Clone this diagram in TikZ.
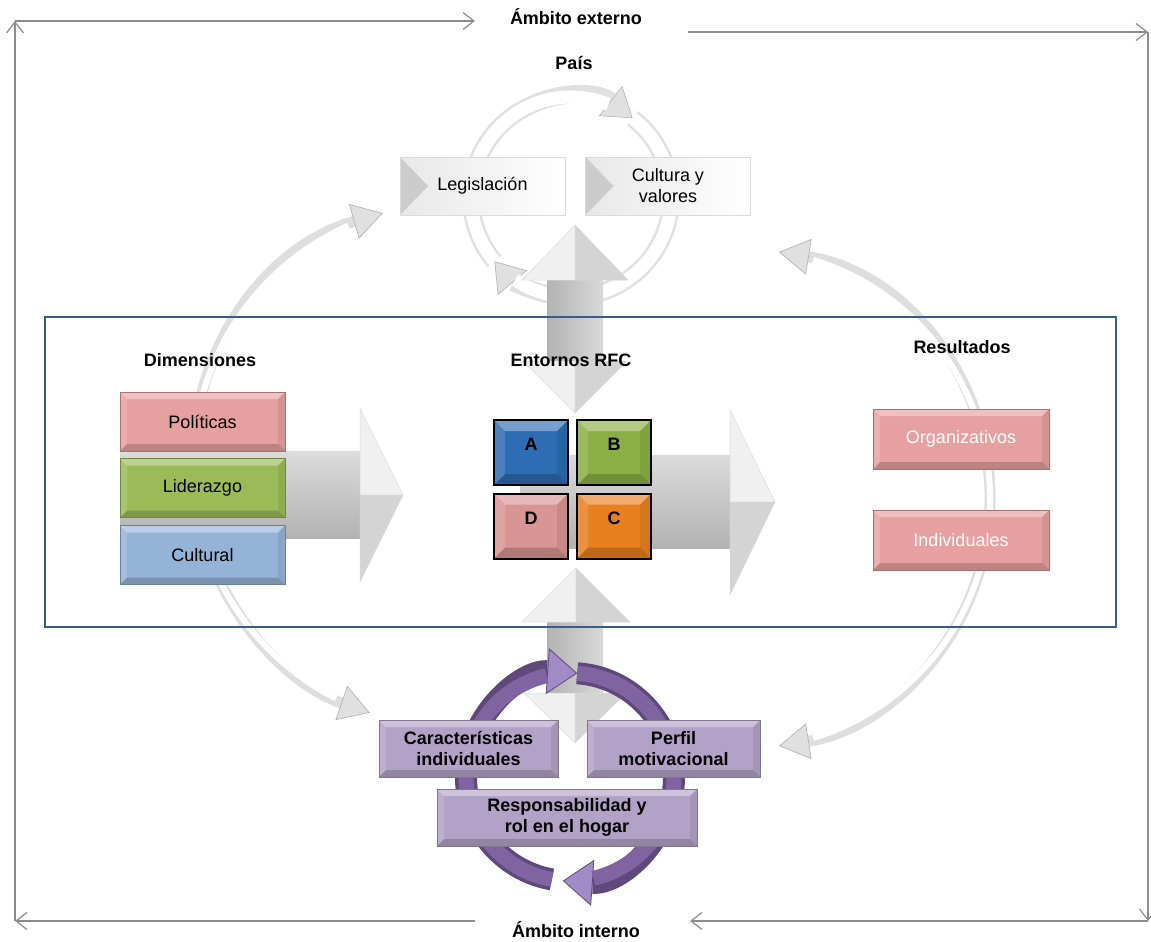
\documentclass[tikz,border=0pt]{standalone}
\usepackage{fontspec}
\setmainfont{Liberation Sans}
\usepackage{tikz}
\usetikzlibrary{arrows.meta,positioning,calc}
\definecolor{Rose}{HTML}{E6A09F}
\definecolor{Lime}{HTML}{9BBB59}
\definecolor{Sky}{HTML}{95B3D7}
\definecolor{Cobalt}{HTML}{2E6CB3}
\definecolor{Moss}{HTML}{8BB045}
\definecolor{Blush}{HTML}{D99593}
\definecolor{Tangerine}{HTML}{E8801F}
\definecolor{Lilac}{HTML}{B3A2C7}
\definecolor{Violet}{HTML}{8064A2}
\definecolor{VioletDk}{HTML}{5F497A}
\definecolor{VioletLt}{HTML}{A08BC6}
\definecolor{Navy}{HTML}{385D8A}
\definecolor{Rim}{HTML}{8C8C8C}
\newcommand\figfont{\fontsize{18}{21}\selectfont}
\tikzset{
  rim/.style={draw=Rim,line width=1.2pt,-{Straight Barb[length=11pt,width=17pt]}},
  head/.style={font=\figfont\bfseries,inner sep=0pt},
  bevel/.style={path picture={
    \path (path picture bounding box.south west) coordinate (bv1)
          (path picture bounding box.north east) coordinate (bv2);
    \fill[white,opacity=.35] (bv1 |- bv2) -- (bv2) -- ([shift={(-#1,-#1)}]bv2)
      -- ([shift={(#1,-#1)}]bv1 |- bv2) -- cycle;
    \fill[black,opacity=.18] (bv1) -- (bv2 |- bv1) -- ([shift={(-#1,#1)}]bv2 |- bv1)
      -- ([shift={(#1,#1)}]bv1) -- cycle;
    \fill[black,opacity=.08] (bv2 |- bv1) -- (bv2) -- ([shift={(-#1,-#1)}]bv2)
      -- ([shift={(-#1,#1)}]bv2 |- bv1) -- cycle;
    \fill[white,opacity=.15] (bv1) -- (bv1 |- bv2) -- ([shift={(#1,-#1)}]bv1 |- bv2)
      -- ([shift={(#1,#1)}]bv1) -- cycle;
  }},
  panel/.style={
    draw=#1!72!black,fill=#1,line width=.8pt,
    minimum width=165pt,minimum height=59pt,
    font=\figfont,align=center,bevel=7pt
  },
  tile/.style={
    draw=black,line width=2pt,fill=#1,minimum width=74pt,minimum height=65pt,
    font=\figfont\bfseries,text height=13pt,text depth=17pt,bevel=11pt
  },
  leaf/.style={
    draw=black!14,left color=black!9,right color=white,
    minimum width=165pt,minimum height=58pt,font=\figfont,align=center,
    path picture={\fill[black!20] (path picture bounding box.north west)
      -- ([xshift=28pt]path picture bounding box.west)
      -- (path picture bounding box.south west) -- cycle;}
  },
  swing/.style={draw=black!13,line width=11pt,
    >={Triangle[length=30pt,width=36pt,line width=.6pt,color=black!32,fill=black!12]},<->},
  swingcore/.style={draw=white,line width=6pt},
  cycler/.style={draw=black!12,line width=18pt,
    -{Triangle[length=28pt,width=38pt,line width=.6pt,color=black!30,fill=black!12]}},
  cyclercore/.style={draw=white,line width=13pt},
  spin/.style={draw=VioletDk,line width=22pt,
    -{Triangle[length=30pt,width=46pt,line width=.8pt,color=VioletDk,fill=VioletLt]}},
  spincore/.style={draw=Violet,line width=15pt},
  hshaft/.style={top color=black!14,bottom color=black!30},
  vshaft/.style={left color=black!30,right color=black!15},
  headlt/.style={fill=black!6,draw=black!14,line width=.5pt},
  headdk/.style={fill=black!17,draw=black!14,line width=.5pt}
}
\begin{document}
\begin{tikzpicture}[x=1pt,y=-1pt]
  \useasboundingbox (0,0) rectangle (1151,942);
  \coordinate (lc) at (455,465);
  \coordinate (rc) at (740,499);
  \coordinate (pc) at (571,197);
  \coordinate (hc) at (570,777);

  \draw[swing] ($(lc)+(254:262)$) arc[start angle=254,end angle=109,radius=262];
  \draw[swingcore] ($(lc)+(246:262)$) arc[start angle=246,end angle=117,radius=262];
  \draw[swing] ($(rc)+(-81:250)$) arc[start angle=-81,end angle=81,radius=250];
  \draw[swingcore] ($(rc)+(-73:250)$) arc[start angle=-73,end angle=73,radius=250];

  \draw[cycler] ($(pc)+(140:100)$) arc[start angle=140,end angle=308,radius=100];
  \draw[cycler] ($(pc)+(308:100)$) arc[start angle=308,end angle=500,radius=100];
  \draw[cyclercore] ($(pc)+(140:100)$) arc[start angle=140,end angle=292,radius=100];
  \draw[cyclercore] ($(pc)+(308:100)$) arc[start angle=308,end angle=484,radius=100];

  \fill[hshaft] (120,451) rectangle (361,538);
  \filldraw[headlt] (360,408) -- (403,495) -- (360,495) -- cycle;
  \filldraw[headdk] (360,495) -- (403,495) -- (360,582) -- cycle;
  \fill[hshaft] (520,455) rectangle (731,548);
  \filldraw[headlt] (730,410) -- (775,502) -- (730,502) -- cycle;
  \filldraw[headdk] (730,502) -- (775,502) -- (730,595) -- cycle;

  \fill[vshaft] (547,279) rectangle (603,362);
  \filldraw[headlt] (522,280) -- (575,225) -- (575,280) -- cycle;
  \filldraw[headdk] (575,225) -- (628,280) -- (575,280) -- cycle;
  \filldraw[headlt] (523,361) -- (575,361) -- (575,413) -- cycle;
  \filldraw[headdk] (575,361) -- (627,361) -- (575,413) -- cycle;
  \fill[vshaft] (547,621) rectangle (603,694);
  \filldraw[headlt] (522,622) -- (576,568) -- (576,622) -- cycle;
  \filldraw[headdk] (576,568) -- (630,622) -- (576,622) -- cycle;
  \filldraw[headlt] (524,693) -- (575,693) -- (575,743) -- cycle;
  \filldraw[headdk] (575,693) -- (626,693) -- (575,743) -- cycle;

  \draw[Navy,line width=1.3pt] (45,317) rectangle (1116,627);

  \draw[spin] ($(hc)+(100:104)$) arc[start angle=100,end angle=274,radius=104];
  \draw[spin] ($(hc)+(274:104)$) arc[start angle=274,end angle=454,radius=104];
  \draw[spincore] ($(hc)+(100:104)$) arc[start angle=100,end angle=257,radius=104];
  \draw[spincore] ($(hc)+(274:104)$) arc[start angle=274,end angle=437,radius=104];

  \node[leaf] (leg) at (482.5,186) {Legislación};
  \node[leaf] (cul) at (668,186) {Cultura y\\valores};

  \node[panel=Rose] (pol) at (202.5,421.5) {Políticas};
  \node[panel=Lime] (lid) at (202.5,488) {Liderazgo};
  \node[panel=Sky] (cult) at (202.5,555) {Cultural};

  \foreach \n/\c/\x/\y in {A/Cobalt/531/452.5,B/Moss/614/452.5,D/Blush/531/526,C/Tangerine/614/526}
    \node[tile=\c] (tile\n) at (\x,\y) {\n};

  \node[panel=Rose,text=white,minimum width=176pt,minimum height=60pt] (org) at (961,439) {Organizativos};
  \node[panel=Rose,text=white,minimum width=176pt,minimum height=60pt] (ind) at (961,540) {Individuales};

  \node[panel=Lilac,font=\figfont\bfseries,minimum width=179pt,minimum height=57pt] (car) at (468.5,748.5)
    {Características\\individuales};
  \node[panel=Lilac,font=\figfont\bfseries,minimum width=173pt,minimum height=57pt] (per) at (673.5,748.5)
    {Perfil\\motivacional};
  \node[panel=Lilac,font=\figfont\bfseries,minimum width=260pt,minimum height=57pt] (rol) at (567,817.5)
    {Responsabilidad y\\rol en el hogar};

  \node[head] (ext) at (576,17) {Ámbito externo};
  \node[head] (pais) at (574,63) {País};
  \node[head] (dim) at (200,360) {Dimensiones};
  \node[head] (ent) at (571,360) {Entornos RFC};
  \node[head] (res) at (962,347) {Resultados};
  \node[head] (int) at (576,930) {Ámbito interno};

  \coordinate (tl) at (15,21);
  \coordinate (tr) at (1148,32);
  \coordinate (br) at (1148,921);
  \coordinate (bl) at (15,921);
  \coordinate (e1) at (475,21);
  \coordinate (e2) at (688,32);
  \coordinate (i1) at (475,921);
  \coordinate (i2) at (690,921);
  \draw[rim] (tl) -- (e1);
  \draw[rim] (e2) -- (tr);
  \draw[rim] (tr) -- (br);
  \draw[rim] (br) -- (i2);
  \draw[rim] (i1) -- (bl);
  \draw[rim] (bl) -- (tl);
\end{tikzpicture}
\end{document}
